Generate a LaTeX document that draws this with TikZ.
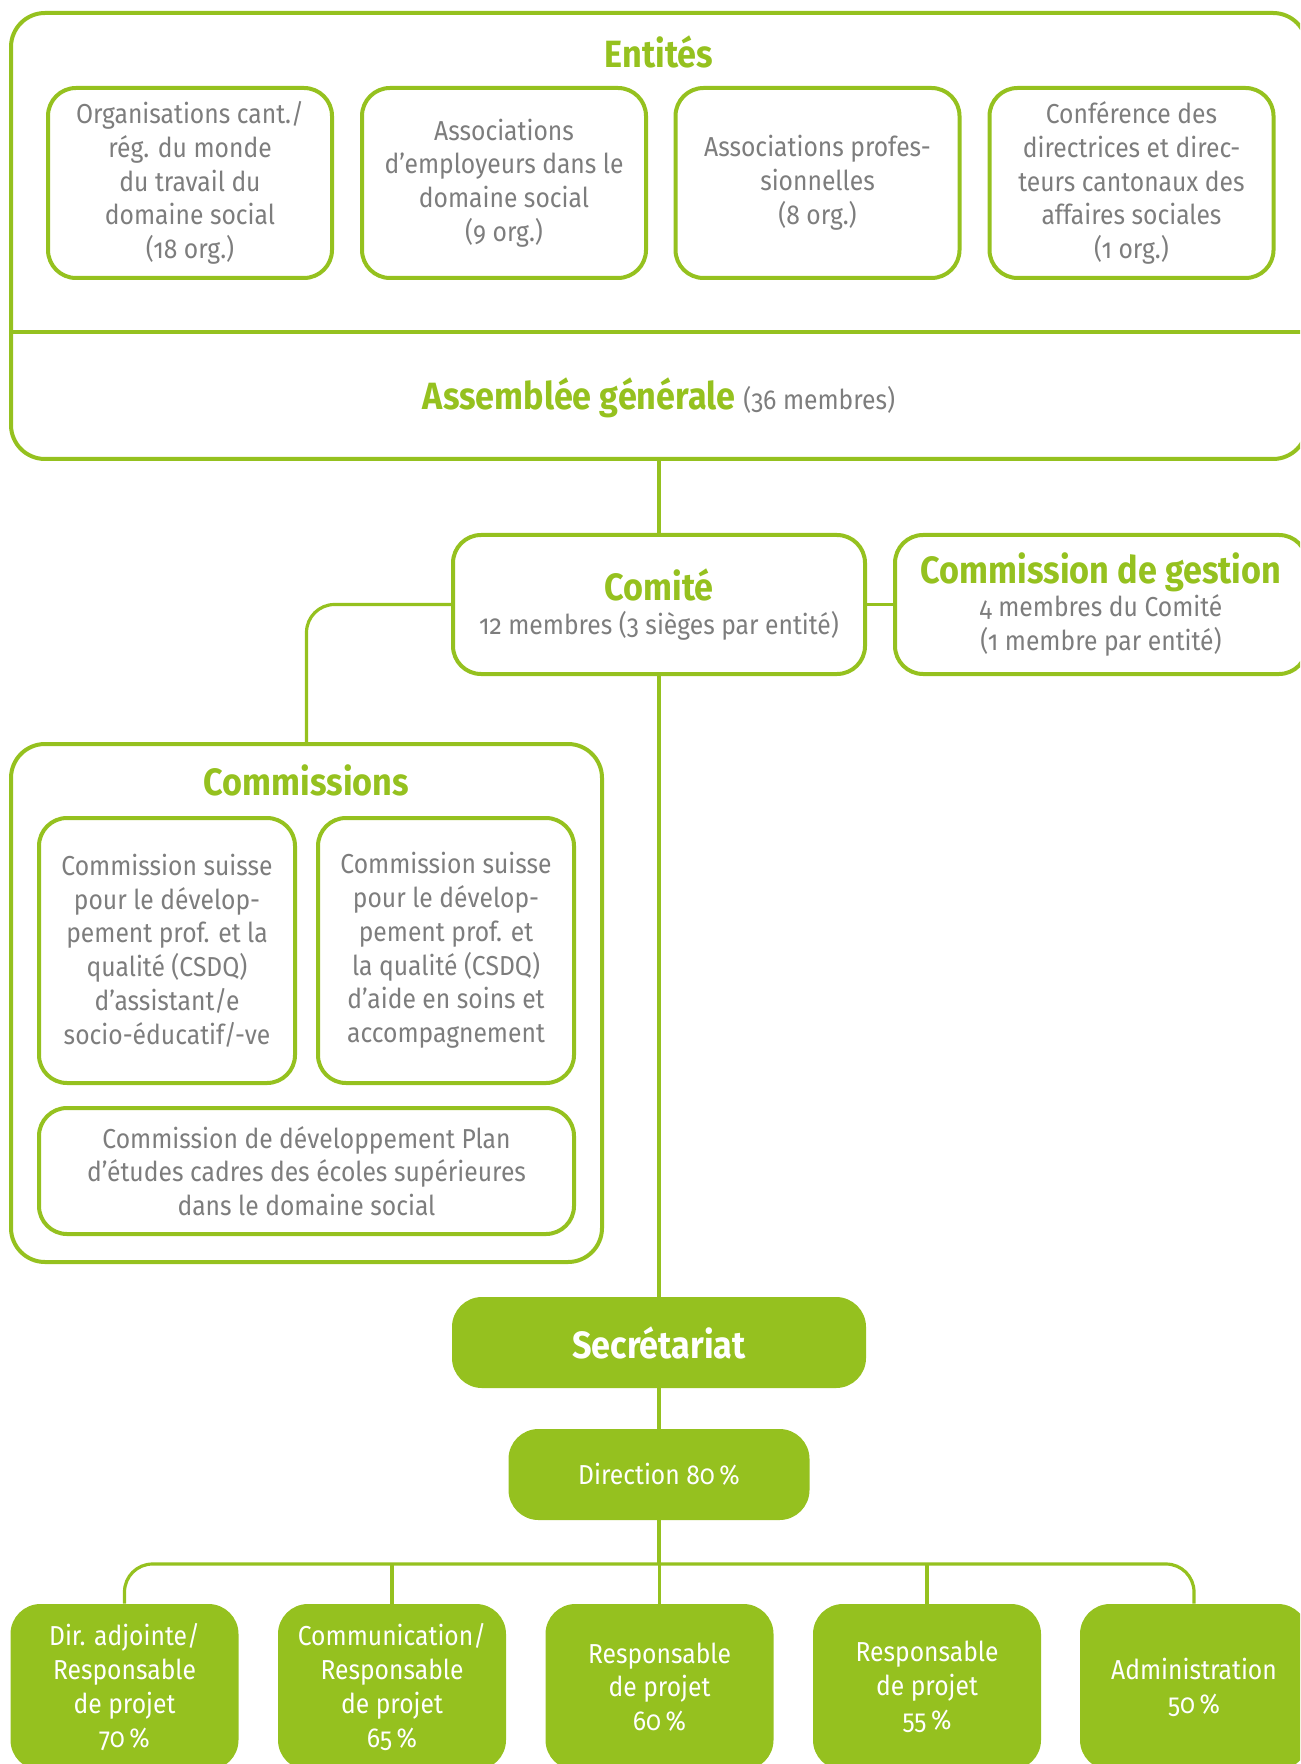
\documentclass[tikz,border=0pt]{standalone}
\usepackage{fontspec}
\setmainfont{Fira Sans}[Numbers=OldStyle,FakeStretch=0.9]
\definecolor{ogreen}{RGB}{149,193,31}
\definecolor{ogray}{RGB}{125,125,125}
\newcommand{\bodyfont}{\fontsize{13.7}{16.9}\selectfont}
\newcommand{\headfont}{\fontsize{19}{21}\selectfont\bfseries}
\begin{document}
\begin{tikzpicture}[x=0.5pt,y=-0.5pt,
  box/.style={draw=ogreen,line width=2pt,rounded corners=14pt,align=center,text=ogray,font=\bodyfont,inner sep=0pt},
  frame/.style={draw=ogreen,line width=2pt,rounded corners=17pt,inner sep=0pt},
  solidbox/.style={fill=ogreen,rounded corners=15pt,align=center,text=white,font=\bodyfont,inner sep=0pt},
  head/.style={text=ogreen,font=\headfont,inner sep=0pt},
  link/.style={draw=ogreen,line width=1.6pt}]
\useasboundingbox (0,0) rectangle (1300,1764);
\clip (0,0) rectangle (1300,1764);
% entites and assemblee generale
\node[frame,minimum width=648pt,minimum height=223pt] (assembly) at (659,236) {};
\draw[draw=ogreen,line width=2pt] (assembly.west |- 0,332) -- (assembly.east |- 0,332);
\node[head] (enttitle) at (659,52) {Entités};
\node[box,minimum width=142pt,minimum height=95pt] (org) at (190,183) {Organisations cant./\\rég. du monde\\du travail du\\domaine social\\(18 org.)};
\node[box,minimum width=142pt,minimum height=95pt] (emp) at (504,183) {Associations\\d’employeurs dans le\\domaine social\\(9 org.)};
\node[box,minimum width=142pt,minimum height=95pt] (prof) at (817.5,183) {Associations profes-\\sionnelles\\(8 org.)};
\node[box,minimum width=142pt,minimum height=95pt] (conf) at (1131.5,183) {Conférence des\\directrices et direc-\\teurs cantonaux des\\affaires sociales\\(1 org.)};
\node[head] (agtitle) at (659,398) {Assemblée générale {\bodyfont\mdseries\color{ogray}(36 membres)}};
% comite
\node[box,minimum width=206pt,minimum height=69.5pt] (comite) at (659,604.5) {{\headfont\color{ogreen}Comité}\\12 membres (3 sièges par entité)};
\node[box,minimum width=206pt,minimum height=69.5pt] (gestion) at (1101,604.5) {{\headfont\color{ogreen}Commission de gestion}\\4 membres du Comité\\(1 membre par entité)};
% commissions
\node[frame,minimum width=295.5pt,minimum height=259pt] (comms) at (306.5,1003) {};
\node[head] (commtitle) at (306.5,780) {Commissions};
\node[box,minimum width=128pt,minimum height=132.5pt] (csdqa) at (167,950.5) {Commission suisse\\pour le dévelop-\\pement prof. et la\\qualité (CSDQ)\\d’assistant/e\\socio-éducatif/-ve};
\node[box,minimum width=128pt,minimum height=132.5pt] (csdqb) at (446,950.5) {Commission suisse\\pour le dévelop-\\pement prof. et\\la qualité (CSDQ)\\d’aide en soins et\\accompagnement};
\node[box,minimum width=267.5pt,minimum height=63pt] (pec) at (306.5,1171) {Commission de développement Plan\\d’études cadres des écoles supérieures\\dans le domaine social};
% secretariat
\node[solidbox,minimum width=207pt,minimum height=45.5pt,font=\headfont] (secr) at (659,1342.5) {Secrétariat};
\node[solidbox,minimum width=150.5pt,minimum height=45.5pt] (dir) at (659,1474.5) {Direction 80\,\%};
\node[solidbox,minimum width=114pt,minimum height=83pt] (adj) at (124.5,1687) {Dir. adjointe/\\Responsable\\de projet\\70\,\%};
\node[solidbox,minimum width=114pt,minimum height=83pt] (com) at (392,1687) {Communication/\\Responsable\\de projet\\65\,\%};
\node[solidbox,minimum width=114pt,minimum height=83pt] (rpa) at (659.5,1687) {Responsable\\de projet\\60\,\%};
\node[solidbox,minimum width=114pt,minimum height=83pt] (rpb) at (927,1687) {Responsable\\de projet\\55\,\%};
\node[solidbox,minimum width=114pt,minimum height=83pt] (adm) at (1194,1687) {Administration\\50\,\%};
\coordinate (bus) at (659,1564);
% connectors
\draw[link] (assembly.south) -- (comite.north);
\draw[link] (comite.east) -- (gestion.west);
\draw[link,rounded corners=14pt] (comite.west) -| (comms.north);
\draw[link] (comite.south) -- (secr.north);
\draw[link] (secr.south) -- (dir.north);
\draw[link] (dir.south) -- (bus);
\draw[link,rounded corners=14pt] (adj.north) |- (bus) -| (adm.north);
\draw[link] (com.north) -- (com.north |- bus);
\draw[link] (rpa.north) -- (rpa.north |- bus);
\draw[link] (rpb.north) -- (rpb.north |- bus);
\end{tikzpicture}
\end{document}
